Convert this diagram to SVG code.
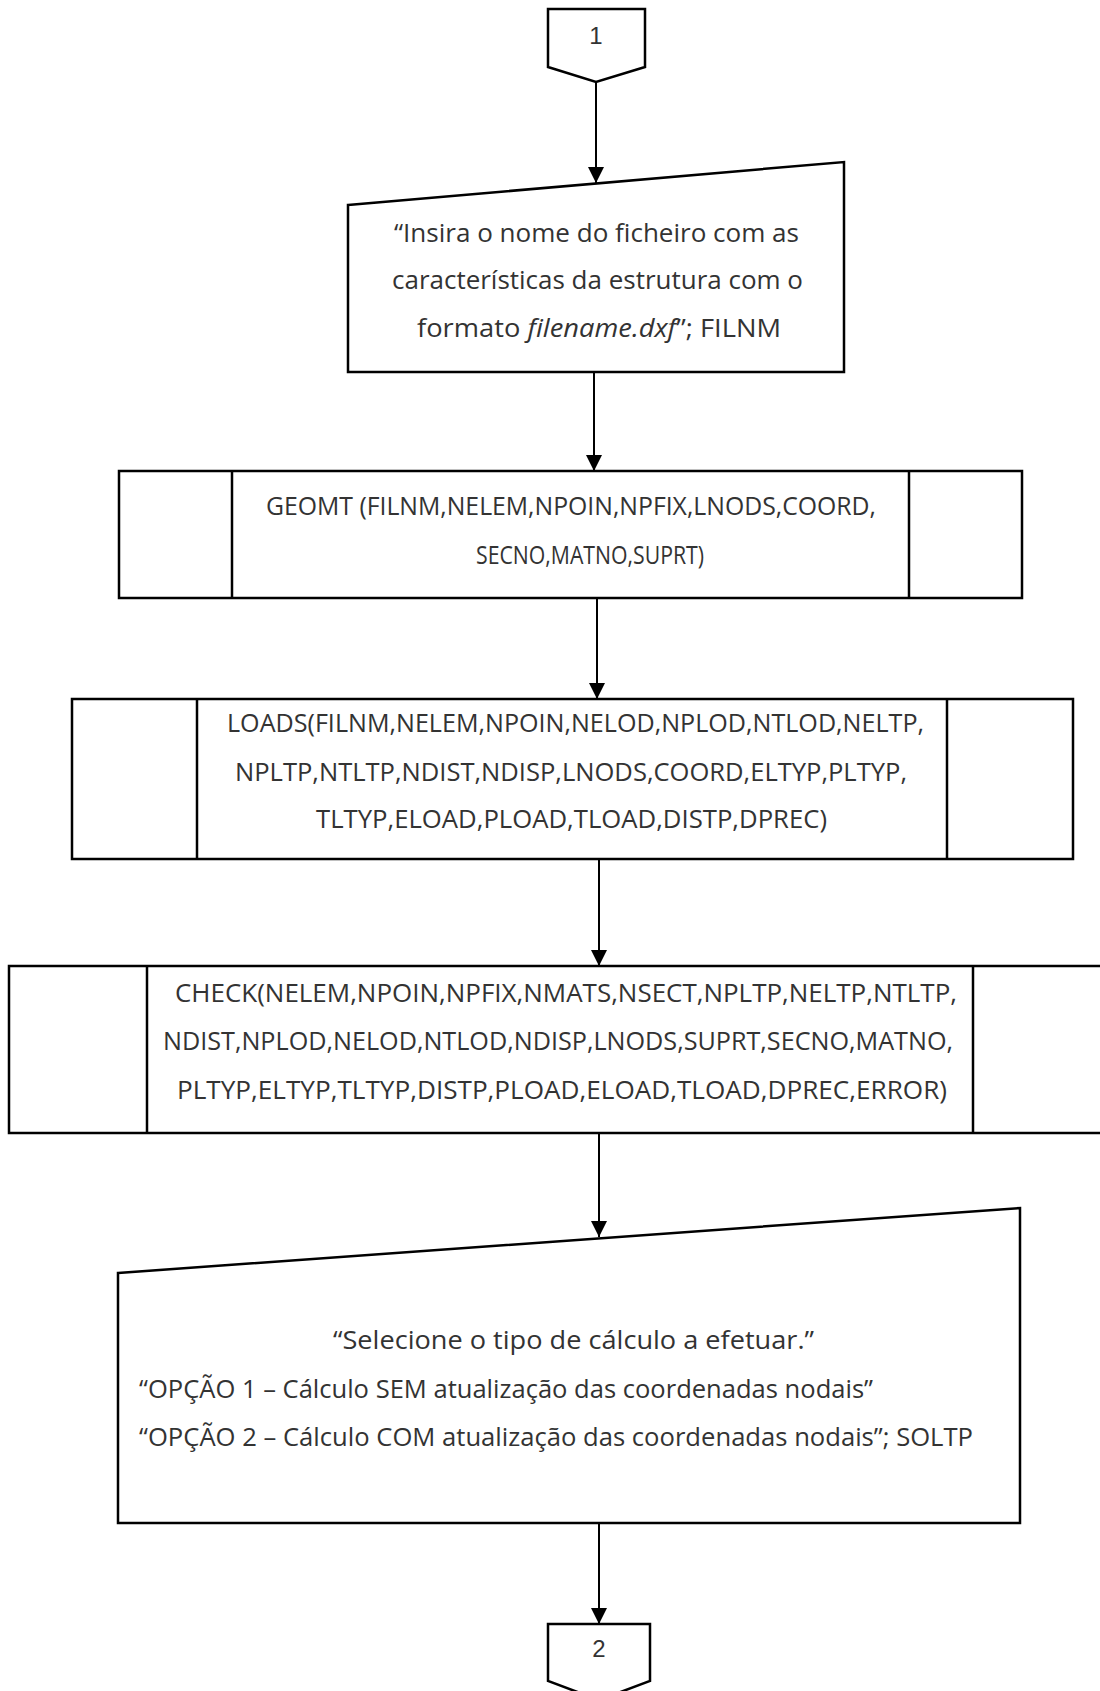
<svg xmlns="http://www.w3.org/2000/svg" width="1100" height="1691" viewBox="0 0 1100 1691">
  <style>
    .shape { fill: #ffffff; stroke: #000000; stroke-width: 2.5; stroke-linejoin: miter; }
    .divider { stroke: #000000; stroke-width: 2.5; }
    .label { font-family: "Open Sans", "Liberation Sans", sans-serif; font-size: 25px; fill: #333333; }
    .num { font-family: "Liberation Sans", "DejaVu Sans", sans-serif; font-size: 24px; fill: #333333; text-anchor: middle; }
    .flow { stroke: #000000; stroke-width: 2; fill: none; marker-end: url(#arrow); }
  </style>
  <defs>
    <marker id="arrow" markerWidth="16" markerHeight="16" refX="16" refY="8" orient="auto" markerUnits="userSpaceOnUse">
      <path d="M0,0 L16,8 L0,16 z" fill="#000000"/>
    </marker>
  </defs>
  <rect width="1100" height="1691" fill="#ffffff"/>

  <!-- off-page connector 1 -->
  <g id="connector-1">
    <polygon class="shape" points="548,9 645,9 645,67 596,82 548,67"/>
    <text class="num" x="596" y="44">1</text>
  </g>

  <!-- manual input: file name -->
  <g id="input-filename">
    <polygon class="shape" points="348,205 844,162 844,372 348,372"/>
    <text class="label" x="394" y="242" textLength="405" lengthAdjust="spacingAndGlyphs">“Insira o nome do ficheiro com as</text>
    <text class="label" x="392" y="289" textLength="411" lengthAdjust="spacingAndGlyphs">características da estrutura com o</text>
    <text class="label" x="417" y="337" textLength="364" lengthAdjust="spacingAndGlyphs">formato <tspan font-style="italic">filename.dxf</tspan>”; FILNM</text>
  </g>

  <!-- subroutine GEOMT -->
  <g id="geomt">
    <rect class="shape" x="119" y="471" width="903" height="127"/>
    <line class="divider" x1="232" y1="471" x2="232" y2="598"/>
    <line class="divider" x1="909" y1="471" x2="909" y2="598"/>
    <text class="label" x="266" y="515" textLength="610" lengthAdjust="spacingAndGlyphs">GEOMT (FILNM,NELEM,NPOIN,NPFIX,LNODS,COORD,</text>
    <text class="label" x="476" y="564" textLength="228" lengthAdjust="spacingAndGlyphs">SECNO,MATNO,SUPRT)</text>
  </g>

  <!-- subroutine LOADS -->
  <g id="loads">
    <rect class="shape" x="72" y="699" width="1001" height="160"/>
    <line class="divider" x1="197" y1="699" x2="197" y2="859"/>
    <line class="divider" x1="947" y1="699" x2="947" y2="859"/>
    <text class="label" x="227" y="732" textLength="697" lengthAdjust="spacingAndGlyphs">LOADS(FILNM,NELEM,NPOIN,NELOD,NPLOD,NTLOD,NELTP,</text>
    <text class="label" x="235" y="781" textLength="672" lengthAdjust="spacingAndGlyphs">NPLTP,NTLTP,NDIST,NDISP,LNODS,COORD,ELTYP,PLTYP,</text>
    <text class="label" x="316" y="828" textLength="511" lengthAdjust="spacingAndGlyphs">TLTYP,ELOAD,PLOAD,TLOAD,DISTP,DPREC)</text>
  </g>

  <!-- subroutine CHECK -->
  <g id="check">
    <rect class="shape" x="9" y="966" width="1100" height="167"/>
    <line class="divider" x1="147" y1="966" x2="147" y2="1133"/>
    <line class="divider" x1="973" y1="966" x2="973" y2="1133"/>
    <text class="label" x="175" y="1002" textLength="782" lengthAdjust="spacingAndGlyphs">CHECK(NELEM,NPOIN,NPFIX,NMATS,NSECT,NPLTP,NELTP,NTLTP,</text>
    <text class="label" x="163" y="1050" textLength="790" lengthAdjust="spacingAndGlyphs">NDIST,NPLOD,NELOD,NTLOD,NDISP,LNODS,SUPRT,SECNO,MATNO,</text>
    <text class="label" x="177" y="1099" textLength="770" lengthAdjust="spacingAndGlyphs">PLTYP,ELTYP,TLTYP,DISTP,PLOAD,ELOAD,TLOAD,DPREC,ERROR)</text>
  </g>

  <!-- manual input: solution type -->
  <g id="input-soltp">
    <polygon class="shape" points="118,1273 1020,1208 1020,1523 118,1523"/>
    <text class="label" x="333" y="1349" textLength="481" lengthAdjust="spacingAndGlyphs">“Selecione o tipo de cálculo a efetuar.”</text>
    <text class="label" x="139" y="1398" textLength="734" lengthAdjust="spacingAndGlyphs">“OPÇÃO 1 – Cálculo SEM atualização das coordenadas nodais”</text>
    <text class="label" x="139" y="1446" textLength="834" lengthAdjust="spacingAndGlyphs">“OPÇÃO 2 – Cálculo COM atualização das coordenadas nodais”; SOLTP</text>
  </g>

  <!-- off-page connector 2 -->
  <g id="connector-2">
    <polygon class="shape" points="548,1624 650,1624 650,1681 599,1700 548,1681"/>
    <text class="num" x="599" y="1657">2</text>
  </g>

  <!-- flow lines -->
  <g id="connectors">
    <line class="flow" x1="596" y1="82" x2="596" y2="183"/>
    <line class="flow" x1="594" y1="372" x2="594" y2="471"/>
    <line class="flow" x1="597" y1="598" x2="597" y2="699"/>
    <line class="flow" x1="599" y1="859" x2="599" y2="966"/>
    <line class="flow" x1="599" y1="1133" x2="599" y2="1237"/>
    <line class="flow" x1="599" y1="1523" x2="599" y2="1624"/>
  </g>
</svg>
